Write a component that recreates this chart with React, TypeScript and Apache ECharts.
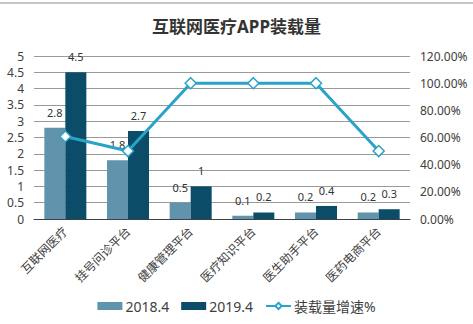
import React, { useEffect, useRef } from "react";
import * as echarts from "echarts";

const categories = ["互联网医疗", "挂号问诊平台", "健康管理平台", "医疗知识平台", "医生助手平台", "医药电商平台"];
const values2018 = [2.8, 1.8, 0.5, 0.1, 0.2, 0.2];
const values2019 = [4.5, 2.7, 1, 0.2, 0.4, 0.3];
const growth = [60.7, 50, 100, 100, 100, 50];
const seriesNames = ["2018.4", "2019.4", "装载量增速%"];

const FONT = "'Noto Sans', 'Noto Sans CJK SC', sans-serif";

export default function App() {
  const ref = useRef<HTMLDivElement>(null);
  useEffect(() => {
    const chart = echarts.init(ref.current!, null, { renderer: "svg" });
    chart.setOption({
      animation: false,
      textStyle: { fontFamily: FONT },
      title: {
        text: "互联网医疗APP装载量",
        left: "center",
        top: 13,
        textStyle: { fontSize: 17, fontWeight: "bold", color: "#333", fontFamily: FONT },
      },
      graphic: [
        {
          type: "line",
          shape: { x1: 0, y1: 3, x2: 473, y2: 3 },
          style: { stroke: "#8c8c8c", lineWidth: 1 },
        },
      ],
      legend: {
        bottom: 6,
        left: "center",
        itemWidth: 25,
        itemHeight: 8,
        itemGap: 12,
        textStyle: { fontSize: 14, color: "#404040", fontFamily: FONT, padding: [0, 0, 0, -2] },
        data: [
          { name: seriesNames[0], icon: "rect" },
          { name: seriesNames[1], icon: "rect" },
          { name: seriesNames[2] },
        ],
      },
      grid: { left: 34, right: 63, top: 56, bottom: 105 },
      xAxis: {
        type: "category",
        data: categories,
        axisTick: { show: false },
        axisLine: { lineStyle: { color: "#404040", width: 1 } },
        axisLabel: { rotate: 45, fontSize: 12, color: "#404040", margin: 10, interval: 0 },
      },
      yAxis: [
        {
          type: "value",
          min: 0,
          max: 5,
          interval: 0.5,
          axisLine: { show: false },
          axisTick: { show: false },
          splitLine: { lineStyle: { color: "#9a9a9a", width: 1 } },
          axisLabel: { fontSize: 12, color: "#404040", margin: 10 },
        },
        {
          type: "value",
          min: 0,
          max: 120,
          interval: 20,
          axisLine: { show: false },
          axisTick: { show: false },
          splitLine: { show: false },
          axisLabel: {
            fontSize: 12,
            color: "#404040",
            margin: 10,
            formatter: (v: number) => v.toFixed(2) + "%",
          },
        },
      ],
      series: [
        {
          name: seriesNames[0],
          type: "bar",
          data: values2018,
          barWidth: 21,
          barGap: "0%",
          itemStyle: { color: "#6093ac" },
          label: { show: true, position: "top", fontSize: 11, color: "#333", distance: 10 },
        },
        {
          name: seriesNames[1],
          type: "bar",
          data: values2019,
          barWidth: 21,
          barGap: "0%",
          itemStyle: { color: "#0b4c68" },
          label: { show: true, position: "top", fontSize: 11, color: "#333", distance: 10 },
        },
        {
          name: seriesNames[2],
          type: "line",
          yAxisIndex: 1,
          data: growth,
          symbol: "diamond",
          symbolSize: 11,
          lineStyle: { color: "#2aa3c9", width: 3 },
          itemStyle: { color: "#ffffff", borderColor: "#2aa3c9", borderWidth: 1.5 },
          z: 5,
        },
      ],
    });
    return () => chart.dispose();
  }, []);
  return (
    <div
      ref={ref}
      style={{ position: "fixed", left: 0, top: 0, width: 473, height: 324, background: "#fff" }}
    />
  );
}
